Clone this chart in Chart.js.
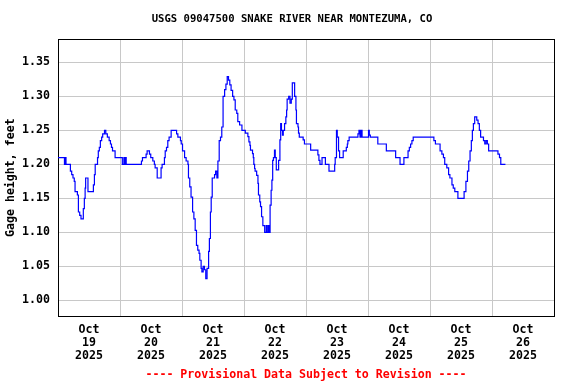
<!DOCTYPE html>
<html>
<head>
<meta charset="utf-8">
<script src="https://cdn.jsdelivr.net/npm/chart.js@4/dist/chart.umd.min.js"></script>
<style>
  html, body { margin: 0; padding: 0; background: #ffffff; }
  canvas { display: block; }
</style>
</head>
<body>
<canvas id="c" width="576" height="384"></canvas>
<script>
// Hours since Oct 19 2025 00:00 at which the gage reading changes
const hours = [0, 2.5, 2.7, 3.1, 4.8, 5.3, 5.8, 6.3, 6.6, 7.5, 7.9, 8.4, 8.9, 9.8, 10.2, 10.5, 10.7, 11.6, 13.7, 14.1, 14.4, 15.3, 15.6, 16.0, 16.4, 16.9, 17.3, 18.0, 18.5, 19.1, 19.8, 20.3, 20.7, 21.1, 22.1, 24.9, 25.5, 25.7, 26.0, 26.4, 32.3, 32.7, 34.1, 34.5, 35.4, 35.9, 36.7, 37.3, 37.6, 38.4, 39.9, 40.3, 41.2, 41.5, 42.0, 42.5, 43.0, 43.8, 45.9, 46.4, 47.4, 47.7, 48.2, 49.0, 49.6, 50.3, 50.5, 51.0, 51.5, 52.1, 52.6, 53.1, 53.6, 54.1, 54.6, 54.9, 55.4, 55.7, 56.2, 56.7, 57.2, 57.7, 58.3, 58.6, 59.0, 59.3, 59.7, 60.6, 61.0, 61.5, 61.9, 62.4, 62.9, 63.4, 63.9, 64.5, 65.0, 65.5, 66.0, 66.5, 67.0, 67.6, 68.1, 68.6, 69.2, 69.6, 70.3, 71.2, 72.5, 73.5, 73.9, 74.3, 74.5, 75.3, 75.6, 75.8, 76.1, 76.3, 76.9, 77.4, 77.6, 78.1, 78.4, 78.8, 79.3, 80.0, 80.6, 81.0, 81.5, 81.8, 82.1, 82.5, 82.8, 83.1, 83.4, 83.8, 84.1, 84.5, 85.4, 85.9, 86.2, 86.5, 86.9, 87.2, 87.7, 88.2, 88.5, 88.7, 89.3, 89.8, 90.3, 90.7, 91.6, 92.1, 92.3, 92.9, 93.1, 93.4, 94.9, 95.4, 97.8, 100.6, 101.0, 101.4, 102.2, 103.5, 104.9, 107.1, 107.3, 107.8, 108.1, 108.6, 109.0, 110.4, 111.6, 112.0, 112.2, 112.7, 116.1, 116.5, 116.9, 117.3, 117.7, 120.2, 120.5, 120.9, 123.8, 127.1, 130.7, 132.4, 133.9, 135.5, 136.0, 136.5, 137.0, 137.5, 145.5, 146.1, 147.9, 148.6, 149.2, 149.7, 150.5, 151.2, 151.7, 152.5, 153.0, 153.6, 154.8, 157.2, 157.9, 158.5, 159.0, 159.5, 160.0, 160.4, 160.8, 161.3, 162.1, 162.6, 163.1, 163.6, 164.7, 165.2, 165.7, 166.2, 166.7, 170.3, 170.9, 171.4, 173.2];

// Gage height, feet
const gageHeight = [1.21, 1.20, 1.21, 1.20, 1.19, 1.185, 1.18, 1.175, 1.16, 1.155, 1.13, 1.125, 1.12, 1.135, 1.15, 1.165, 1.18, 1.16, 1.17, 1.185, 1.20, 1.21, 1.22, 1.225, 1.235, 1.24, 1.245, 1.25, 1.245, 1.24, 1.235, 1.23, 1.225, 1.22, 1.21, 1.20, 1.21, 1.20, 1.21, 1.20, 1.205, 1.21, 1.215, 1.22, 1.215, 1.21, 1.205, 1.20, 1.195, 1.18, 1.195, 1.20, 1.21, 1.22, 1.225, 1.235, 1.24, 1.25, 1.245, 1.24, 1.235, 1.23, 1.22, 1.21, 1.205, 1.20, 1.18, 1.167, 1.152, 1.13, 1.12, 1.103, 1.081, 1.074, 1.069, 1.059, 1.047, 1.042, 1.05, 1.045, 1.032, 1.047, 1.072, 1.091, 1.13, 1.152, 1.18, 1.185, 1.19, 1.18, 1.205, 1.235, 1.24, 1.255, 1.30, 1.31, 1.318, 1.329, 1.324, 1.317, 1.309, 1.30, 1.295, 1.28, 1.275, 1.263, 1.258, 1.25, 1.246, 1.241, 1.233, 1.228, 1.221, 1.216, 1.21, 1.20, 1.194, 1.19, 1.184, 1.172, 1.155, 1.145, 1.138, 1.123, 1.11, 1.10, 1.11, 1.10, 1.11, 1.10, 1.14, 1.162, 1.177, 1.206, 1.21, 1.221, 1.21, 1.192, 1.206, 1.236, 1.26, 1.25, 1.243, 1.25, 1.26, 1.27, 1.28, 1.296, 1.30, 1.29, 1.296, 1.32, 1.30, 1.28, 1.26, 1.255, 1.246, 1.24, 1.236, 1.23, 1.221, 1.214, 1.206, 1.20, 1.21, 1.20, 1.19, 1.20, 1.21, 1.25, 1.24, 1.22, 1.21, 1.22, 1.225, 1.23, 1.235, 1.24, 1.245, 1.25, 1.24, 1.25, 1.24, 1.25, 1.243, 1.24, 1.23, 1.22, 1.21, 1.20, 1.21, 1.22, 1.225, 1.23, 1.235, 1.24, 1.235, 1.23, 1.22, 1.215, 1.21, 1.20, 1.195, 1.185, 1.18, 1.17, 1.165, 1.16, 1.15, 1.16, 1.175, 1.19, 1.205, 1.22, 1.235, 1.25, 1.26, 1.27, 1.265, 1.26, 1.25, 1.24, 1.235, 1.23, 1.235, 1.23, 1.22, 1.215, 1.21, 1.20, 1.20];

const yTickValues = [1.00, 1.05, 1.10, 1.15, 1.20, 1.25, 1.30, 1.35];
const xTickHours = [0, 12, 24, 36, 48, 60, 72, 84, 96, 108, 120, 132, 144, 156, 168, 180, 192];
const xDayLabels = [['Oct','19','2025'], ['Oct','20','2025'], ['Oct','21','2025'], ['Oct','22','2025'],
                    ['Oct','23','2025'], ['Oct','24','2025'], ['Oct','25','2025'], ['Oct','26','2025']];

const FONT = "'DejaVu Sans Mono', 'Liberation Mono', monospace";
const GRID = '#c8c8c8';

const points = hours.map((h, i) => ({ x: h, y: gageHeight[i] }));

new Chart(document.getElementById('c'), {
  type: 'line',
  data: {
    datasets: [{
      data: points,
      borderColor: '#0000ff',
      borderWidth: 1.2,
      pointRadius: 0,
      stepped: true,
      fill: false,
      xAxisID: 'x',
      yAxisID: 'y'
    }]
  },
  options: {
    responsive: false,
    animation: false,
    events: [],
    layout: { padding: { left: 8, right: 0, top: 0, bottom: 0 } },
    plugins: {
      legend: { display: false },
      tooltip: { enabled: false },
      title: {
        display: true,
        text: 'USGS 09047500 SNAKE RIVER NEAR MONTEZUMA, CO',
        color: '#000000',
        font: { family: FONT, size: 10.6, weight: 'bold', lineHeight: 1.2 },
        padding: { top: 12.6, bottom: 14 }
      }
    },
    scales: {
      x: {
        type: 'linear',
        position: 'bottom',
        min: 0,
        max: 192,
        afterBuildTicks: (s) => { s.ticks = xTickHours.map(v => ({ value: v })); },
        afterFit: (s) => { s.height = 68; },
        grid: {
          color: (ctx) => (ctx.tick && ctx.tick.value % 24 === 0) ? GRID : 'rgba(0,0,0,0)',
          lineWidth: 1,
          drawTicks: false
        },
        border: { display: true, color: '#000000', width: 1 },
        ticks: {
          autoSkip: false,
          maxRotation: 0,
          padding: 7.5,
          color: '#000000',
          font: { family: FONT, size: 11.6, weight: 'bold', lineHeight: 1.12 },
          callback: (v) => (v % 24 === 12) ? xDayLabels[(v - 12) / 24] : ''
        },
        title: {
          display: true,
          text: '---- Provisional Data Subject to Revision ----',
          color: '#ff0000',
          font: { family: FONT, size: 11.6, weight: 'bold', lineHeight: 1.2 },
          padding: { top: 0, bottom: 2 }
        }
      },
      y: {
        type: 'linear',
        position: 'left',
        min: 0.977,
        max: 1.384,
        afterBuildTicks: (s) => { s.ticks = yTickValues.map(v => ({ value: v })); },
        afterFit: (s) => { s.width = 50; },
        grid: { color: GRID, lineWidth: 1, drawTicks: false },
        border: { display: true, color: '#000000', width: 1 },
        ticks: {
          padding: 8,
          color: '#000000',
          font: { family: FONT, size: 11.6, weight: 'bold' },
          callback: (v) => v.toFixed(2)
        },
        title: {
          display: true,
          text: 'Gage height, feet',
          color: '#000000',
          font: { family: FONT, size: 11.6, weight: 'bold', lineHeight: 0.55 },
          padding: { top: 0, bottom: 0 }
        }
      },
      xTop: {
        type: 'linear',
        position: 'top',
        afterFit: (s) => { s.height = 0; },
        grid: { display: false, drawTicks: false },
        border: { display: true, color: '#000000', width: 1 },
        ticks: { display: false }
      },
      yRight: {
        type: 'linear',
        position: 'right',
        afterFit: (s) => { s.width = 22; },
        grid: { display: false, drawTicks: false },
        border: { display: true, color: '#000000', width: 1 },
        ticks: { display: false }
      }
    }
  }
});
</script>
</body>
</html>
